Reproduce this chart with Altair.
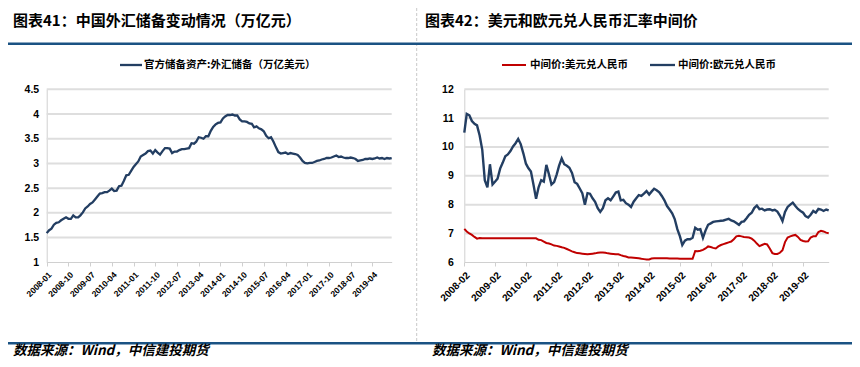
import altair as alt
import pandas as pd

# ---------------- data ----------------
# China official FX reserves (trillion USD), monthly 2008-01 .. 2019-12
fx_reserves = [
    1.59, 1.65, 1.68, 1.76, 1.80, 1.81, 1.85, 1.88, 1.91, 1.88, 1.88, 1.95,   # 2008
    1.91, 1.91, 1.95, 2.01, 2.09, 2.13, 2.18, 2.21, 2.27, 2.33, 2.39, 2.40,   # 2009
    2.42, 2.42, 2.45, 2.49, 2.44, 2.45, 2.54, 2.55, 2.65, 2.76, 2.77, 2.85,   # 2010
    2.93, 2.99, 3.04, 3.14, 3.17, 3.20, 3.25, 3.26, 3.20, 3.27, 3.22, 3.18,   # 2011
    3.25, 3.31, 3.31, 3.30, 3.21, 3.24, 3.24, 3.27, 3.29, 3.29, 3.30, 3.31,   # 2012
    3.41, 3.40, 3.44, 3.53, 3.52, 3.50, 3.55, 3.55, 3.66, 3.74, 3.79, 3.82,   # 2013
    3.83, 3.91, 3.95, 3.98, 3.98, 3.99, 3.97, 3.97, 3.89, 3.85, 3.85, 3.84,   # 2014
    3.81, 3.80, 3.73, 3.75, 3.71, 3.69, 3.65, 3.56, 3.51, 3.53, 3.44, 3.33,   # 2015
    3.23, 3.20, 3.21, 3.22, 3.19, 3.21, 3.20, 3.19, 3.17, 3.12, 3.05, 3.01,   # 2016
    3.00, 3.01, 3.01, 3.03, 3.05, 3.06, 3.08, 3.09, 3.11, 3.11, 3.12, 3.14,   # 2017
    3.16, 3.13, 3.14, 3.12, 3.11, 3.11, 3.12, 3.11, 3.09, 3.05, 3.06, 3.07,   # 2018
    3.09, 3.09, 3.10, 3.09, 3.10, 3.12, 3.10, 3.11, 3.09, 3.11, 3.10, 3.11,   # 2019
]

# Central parity, monthly readings 2008-02 .. 2019-12
usd_cny = [
    7.16, 7.07, 7.00, 6.95, 6.88, 6.82, 6.84, 6.83, 6.83, 6.83, 6.83,         # 2008 (Feb-Dec)
    6.83, 6.83, 6.83, 6.83, 6.83, 6.83, 6.83, 6.83, 6.83, 6.83, 6.83, 6.83,   # 2009
    6.83, 6.83, 6.83, 6.83, 6.83, 6.83, 6.78, 6.77, 6.72, 6.67, 6.65, 6.62,   # 2010
    6.58, 6.57, 6.55, 6.52, 6.50, 6.46, 6.42, 6.38, 6.35, 6.32, 6.31, 6.30,   # 2011
    6.29, 6.28, 6.29, 6.30, 6.31, 6.33, 6.34, 6.34, 6.33, 6.31, 6.30, 6.29,   # 2012
    6.28, 6.28, 6.25, 6.22, 6.20, 6.17, 6.17, 6.16, 6.15, 6.14, 6.12, 6.11,   # 2013
    6.10, 6.10, 6.13, 6.14, 6.14, 6.14, 6.14, 6.14, 6.14, 6.13, 6.13, 6.13,   # 2014
    6.13, 6.12, 6.12, 6.12, 6.12, 6.12, 6.12, 6.39, 6.38, 6.40, 6.43, 6.48,   # 2015
    6.55, 6.53, 6.50, 6.48, 6.55, 6.60, 6.63, 6.66, 6.69, 6.72, 6.80, 6.90,   # 2016
    6.92, 6.90, 6.88, 6.87, 6.86, 6.82, 6.75, 6.65, 6.56, 6.60, 6.64, 6.62,   # 2017
    6.48, 6.32, 6.29, 6.29, 6.33, 6.42, 6.70, 6.86, 6.90, 6.93, 6.95, 6.88,   # 2018
    6.78, 6.74, 6.72, 6.73, 6.86, 6.90, 6.90, 7.05, 7.09, 7.07, 7.03, 7.01,   # 2019
]
eur_cny = [
    10.50, 11.15, 11.10, 10.90, 10.80, 10.75, 10.40, 9.90, 8.85, 8.60, 9.40,  # 2008 (Feb-Dec)
    8.70, 8.80, 8.90, 9.25, 9.45, 9.68, 9.74, 9.86, 10.02, 10.13, 10.28, 10.10,  # 2009
    9.78, 9.42, 9.27, 9.15, 8.70, 8.20, 8.60, 8.85, 8.80, 9.38, 9.05, 8.70,   # 2010
    8.78, 9.05, 9.35, 9.60, 9.40, 9.35, 9.28, 9.10, 8.78, 8.72, 8.56, 8.40,   # 2011
    8.00, 8.40, 8.38, 8.22, 8.10, 7.88, 7.75, 7.88, 8.15, 8.22, 8.15, 8.28,   # 2012
    8.42, 8.45, 8.15, 8.17, 8.05, 8.00, 7.92, 8.10, 8.22, 8.33, 8.30, 8.38,   # 2013
    8.47, 8.35, 8.45, 8.55, 8.50, 8.43, 8.30, 8.15, 7.95, 7.83, 7.70, 7.50,   # 2014
    7.15, 6.90, 6.60, 6.75, 6.80, 6.80, 6.85, 7.20, 7.13, 7.15, 6.85, 7.10,   # 2015
    7.30, 7.35, 7.40, 7.42, 7.43, 7.44, 7.45, 7.48, 7.51, 7.45, 7.42, 7.36,   # 2016
    7.30, 7.40, 7.42, 7.53, 7.65, 7.72, 7.88, 7.97, 7.84, 7.86, 7.80, 7.83,   # 2017
    7.84, 7.80, 7.82, 7.76, 7.62, 7.43, 7.75, 7.92, 8.00, 8.07, 7.95, 7.85,   # 2018
    7.78, 7.72, 7.60, 7.55, 7.65, 7.78, 7.72, 7.85, 7.83, 7.78, 7.83, 7.80,   # 2019
]

left_tick_months = [(2008, 1), (2008, 10), (2009, 7), (2010, 4), (2011, 1), (2011, 10),
                    (2012, 7), (2013, 4), (2014, 1), (2014, 10), (2015, 7), (2016, 4),
                    (2017, 1), (2017, 10), (2018, 7), (2019, 4)]
right_tick_months = [(y, 2) for y in range(2008, 2020)]
left_y_ticks = [1, 1.5, 2, 2.5, 3, 3.5, 4, 4.5]
right_y_ticks = [6, 7, 8, 9, 10, 11, 12]

title_left = "图表41：中国外汇储备变动情况（万亿元）"
title_right = "图表42：美元和欧元兑人民币汇率中间价"
legend_left = "官方储备资产:外汇储备（万亿美元）"
legend_usd = "中间价:美元兑人民币"
legend_eur = "中间价:欧元兑人民币"
footer = "数据来源：Wind，中信建投期货"

# ---------------- styling ----------------
CJK = "Noto Sans CJK SC"
NUM = "Liberation Sans"
NAVY = "#233E62"
RED = "#C00000"
RULE_BLUE = "#1A5283"
GRID = "#DEDEDE"
AXIS_GREY = "#D0D0D0"


def iso(y, m):
    return f"{y:04d}-{m:02d}-01T00:00:00"


def months(y0, m0, n):
    out = []
    y, m = y0, m0
    for _ in range(n):
        out.append(iso(y, m))
        m += 1
        if m > 12:
            m = 1
            y += 1
    return out


left_df = pd.DataFrame({"date": months(2008, 1, len(fx_reserves)), "v": fx_reserves})
usd_df = pd.DataFrame({"date": months(2008, 2, len(usd_cny)), "v": usd_cny})
eur_df = pd.DataFrame({"date": months(2008, 2, len(eur_cny)), "v": eur_cny})

left_grid = pd.DataFrame({"date": iso(2008, 1), "date2": iso(2019, 12),
                          "v": [t for t in left_y_ticks if t > left_y_ticks[0]]})
right_grid = pd.DataFrame({"date": iso(2008, 2), "date2": iso(2019, 12),
                           "v": [t for t in right_y_ticks if t > right_y_ticks[0]]})

TOP, BOTTOM = 81.3, 254.3

xL = alt.X("date:T",
           scale=alt.Scale(domain=[alt.DateTime(year=2008, month=1, date=1),
                                   alt.DateTime(year=2019, month=12, date=1)],
                           range=[38.7, 383.7], nice=False),
           axis=alt.Axis(orient="bottom", title=None, grid=False,
                         values=[alt.DateTime(year=y, month=m, date=1) for y, m in left_tick_months],
                         format="%Y-%m", labelAngle=-45, labelFlush=False, labelOverlap=False,
                         labelBound=False, tickSize=4, tickColor=AXIS_GREY, domainColor=AXIS_GREY,
                         labelFont=NUM, labelFontSize=8.5, labelFontWeight="bold",
                         labelColor="black", labelPadding=4))
yL = alt.Y("v:Q",
           scale=alt.Scale(domain=[1, 4.5], range=[BOTTOM, TOP], nice=False, zero=False),
           axis=alt.Axis(orient="left", offset=-38.7, title=None, grid=False,
                         values=left_y_ticks, format=".1~f", ticks=False,
                         domainColor=AXIS_GREY, labelFont=NUM, labelFontSize=10.5,
                         labelFontWeight="bold", labelColor="black", labelPadding=8))

xR = alt.X("date:T",
           scale=alt.Scale(domain=[alt.DateTime(year=2008, month=2, date=1),
                                   alt.DateTime(year=2019, month=12, date=1)],
                           range=[456.3, 820.7], nice=False),
           axis=alt.Axis(orient="bottom", title=None, grid=False,
                         values=[alt.DateTime(year=y, month=m, date=1) for y, m in right_tick_months],
                         format="%Y-%m", labelAngle=-45, labelFlush=False, labelOverlap=False,
                         labelBound=False, tickSize=4, tickColor=AXIS_GREY, domainColor=AXIS_GREY,
                         labelFont=NUM, labelFontSize=10, labelFontWeight="bold",
                         labelColor="black", labelPadding=4))
yR = alt.Y("v:Q",
           scale=alt.Scale(domain=[6, 12], range=[BOTTOM, TOP], nice=False, zero=False),
           axis=alt.Axis(orient="left", offset=-456.3, title=None, grid=False,
                         values=right_y_ticks, format="d", ticks=False,
                         domainColor=AXIS_GREY, labelFont=NUM, labelFontSize=10.5,
                         labelFontWeight="bold", labelColor="black", labelPadding=11))

left_panel = alt.layer(
    alt.Chart(left_grid).mark_rule(color=GRID, strokeWidth=2).encode(x=xL, x2="date2:T", y=yL),
    alt.Chart(left_df).mark_line(color=NAVY, strokeWidth=2.3).encode(x=xL, y=yL),
)
right_panel = alt.layer(
    alt.Chart(right_grid).mark_rule(color=GRID, strokeWidth=2).encode(x=xR, x2="date2:T", y=yR),
    alt.Chart(eur_df).mark_line(color=NAVY, strokeWidth=2.4).encode(x=xR, y=yR),
    alt.Chart(usd_df).mark_line(color=RED, strokeWidth=2).encode(x=xR, y=yR),
)

ONE = pd.DataFrame({"a": [0]})


def txt(s, x, y, size, weight="bold", style="normal", font=CJK, color="black", baseline="middle"):
    return alt.Chart(pd.DataFrame({"t": [s]})).mark_text(
        align="left", baseline=baseline, fontSize=size, fontWeight=weight,
        fontStyle=style, font=font, color=color
    ).encode(text="t:N", x=alt.value(x), y=alt.value(y))


def hrule(x1, x2, y, color, width, dash=None):
    kw = dict(color=color, strokeWidth=width)
    if dash:
        kw["strokeDash"] = dash
    return alt.Chart(ONE).mark_rule(**kw).encode(x=alt.value(x1), x2=alt.value(x2), y=alt.value(y))


def vrule(x, y1, y2, color, width, dash=None):
    kw = dict(color=color, strokeWidth=width)
    if dash:
        kw["strokeDash"] = dash
    return alt.Chart(ONE).mark_rule(**kw).encode(x=alt.value(x), y=alt.value(y1), y2=alt.value(y2))


decor = [
    vrule(408.7, 0, 335, "#C8C8C8", 1, [3, 2]),
    hrule(0, 844, 35.7, RULE_BLUE, 2.5),
    hrule(0, 844, 335.3, RULE_BLUE, 2.5),
    txt(title_left, 5, 13, 15),
    txt(title_right, 417, 13, 15),
    hrule(112, 134, 57, NAVY, 2.3),
    txt(legend_left, 136, 57, 10.5),
    hrule(494, 518, 57, RED, 2),
    txt(legend_usd, 522, 57, 10.5),
    hrule(642, 667, 57, NAVY, 2.3),
    txt(legend_eur, 670, 57, 10.5),
    txt(footer, 5, 347, 13.5, style="italic", baseline="alphabetic"),
    txt(footer, 424, 347, 13.5, style="italic", baseline="alphabetic"),
]

chart = alt.layer(left_panel, right_panel, *decor).resolve_scale(
    x="independent", y="independent"
).properties(
    width=844, height=254,
    padding={"left": 0, "top": 0, "right": 0, "bottom": 97},
    autosize=alt.AutoSizeParams(type="none"),
    background="white",
).configure_view(strokeWidth=0)

chart.save("out.html", embed_options={"renderer": "svg", "actions": False})
